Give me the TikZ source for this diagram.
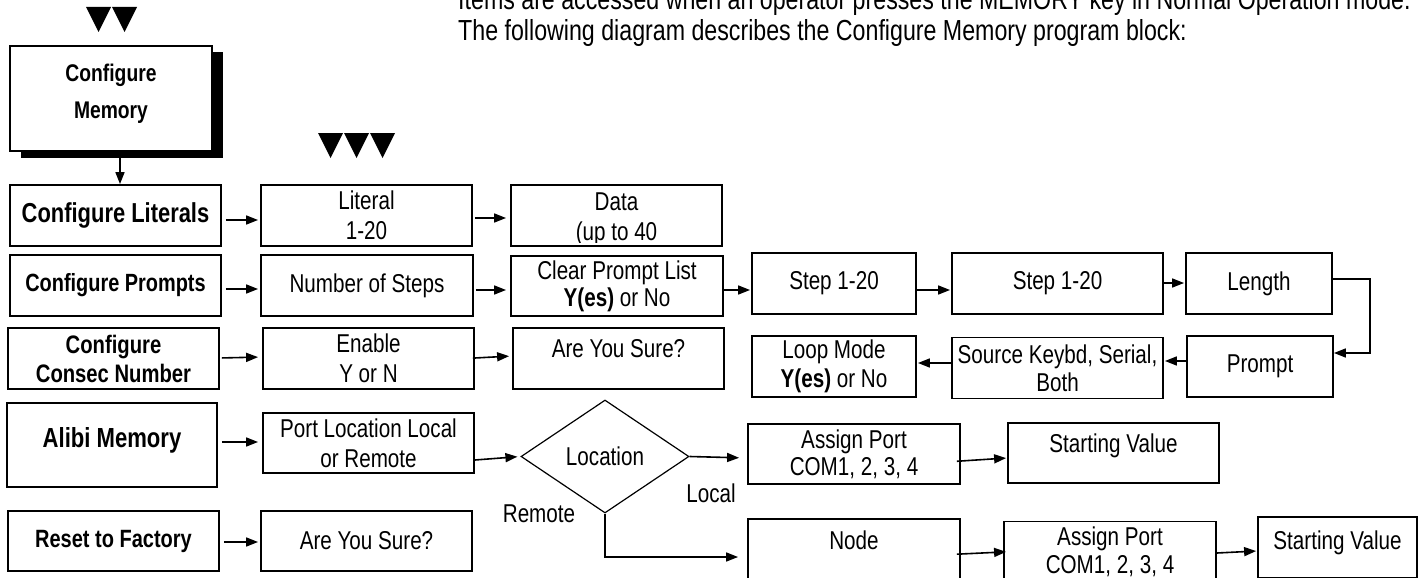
\documentclass[tikz,border=0pt]{standalone}
\usepackage{fontspec}
\setmainfont{Liberation Sans}[FakeStretch=0.8]
\usetikzlibrary{arrows.meta,shapes.geometric,shadows}
\newcommand\rgf{\fontsize{25.8}{30}\selectfont}
\begin{document}
\begin{tikzpicture}[x=1pt,y=-1pt,
  box/.style={draw, line width=1.8pt, inner sep=0pt, align=center, font=\rgf, fill=white},
  bl/.style={font=\fontsize{#1}{29}\selectfont\bfseries},
  arr/.style={-{Triangle[length=12pt,width=9pt]}, line width=1.6pt},
  tri/.style={fill=black},
  lbl/.style={font=\rgf, inner sep=0pt},
  intro/.style={font=\fontsize{29}{30}\selectfont, inner sep=0pt, anchor=base west}]
\useasboundingbox (0,0) rectangle (1424,578);
\clip (0,0) rectangle (1424,578);

% intro text
\node[intro] (intro1) at (458,10) {Items are accessed when an operator presses the MEMORY key in Normal Operation mode.};
\node[intro] (intro2) at (458,41) {The following diagram describes the Configure Memory program block:};

% triangles
\fill[tri] (86,7) -- (111,7) -- (98.5,32) -- cycle;
\fill[tri] (112,7) -- (137,7) -- (124.5,32) -- cycle;
\fill[tri] (318,133) -- (343,133) -- (330.5,158) -- cycle;
\fill[tri] (344,133) -- (369,133) -- (356.5,158) -- cycle;
\fill[tri] (370,133) -- (395,133) -- (382.5,158) -- cycle;

% top block
\node[box, minimum width=202pt, minimum height=105pt, drop shadow={shadow xshift=11pt, shadow yshift=-6.5pt, fill=black, opacity=1},
  font=\fontsize{24.1}{37}\selectfont\bfseries, text depth=14pt] (cm) at (111,98.5) {Configure\\Memory};

% row 1
\node[box, minimum width=211pt, minimum height=61pt, bl=27.4] (lit) at (115.5,215.5) {Configure Literals};
\node[box, minimum width=211pt, minimum height=61pt] (l1) at (366.5,215.5) {Literal\\1-20};
\node[box, minimum width=211pt, minimum height=61pt] (l2) at (616.5,215.5) {};
\begin{scope}
\clip (514,188) rectangle (719,242);
\node[lbl, align=center] (l2t) at (616.5,219) {Data\\(up to 40};
\end{scope}

% row 2
\node[box, minimum width=211pt, minimum height=61pt, bl=24.9] (pr) at (115.5,285.5) {Configure Prompts};
\node[box, minimum width=212pt, minimum height=61pt] (p1) at (367,285.5) {Number of Steps};
\node[box, minimum width=212pt, minimum height=60pt, font=\fontsize{25.8}{27}\selectfont] (p2) at (617,286) {Clear Prompt List\\\textbf{Y(es)} or No};
\node[box, minimum width=164pt, minimum height=61pt] (p3) at (834,283.5) {Step 1-20};
\node[box, minimum width=211pt, minimum height=61pt] (p4) at (1057.5,283.5) {Step 1-20};
\node[box, minimum width=146pt, minimum height=61pt] (p5) at (1259,283.5) {Length};
\node[box, minimum width=146pt, minimum height=61pt] (p6) at (1260,366.5) {Prompt};
\node[box, minimum width=211pt, minimum height=61pt, font=\fontsize{25.8}{28}\selectfont] (p7) at (1057.5,368) {Source Keybd, Serial,\\Both};
\node[box, minimum width=164pt, minimum height=61pt, font=\fontsize{25.8}{29}\selectfont] (p8) at (834,366.5) {Loop Mode\\\textbf{Y(es)} or No};

% row 3
\node[box, minimum width=211pt, minimum height=61pt, bl=25.3] (cs) at (113.5,358.5) {Configure\\Consec Number};
\node[box, minimum width=211pt, minimum height=61pt] (c1) at (368.5,358.5) {Enable\\Y or N};
\node[box, minimum width=211pt, minimum height=61pt, text depth=21pt] (c2) at (618.5,358.5) {Are You Sure?};

% row 4
\node[box, minimum width=210pt, minimum height=84pt, bl=27.6, text depth=16pt] (al) at (112,445) {Alibi Memory};
\node[box, minimum width=211pt, minimum height=60pt] (a1) at (368.5,443) {Port Location Local\\or Remote};
\node[draw, diamond, line width=1.2pt, inner sep=0pt, minimum width=168pt, minimum height=113pt, font=\rgf] (dia) at (605,456.5) {Location};
\node[box, minimum width=212pt, minimum height=60pt, font=\fontsize{25.8}{27}\selectfont] (a2) at (854,454) {Assign Port\\COM1, 2, 3, 4};
\node[box, minimum width=211pt, minimum height=60pt, text depth=20pt] (a3) at (1113.5,453) {Starting Value};
\node[box, minimum width=212pt, minimum height=61pt, text depth=19pt] (a4) at (854,549.5) {Node};
\node[box, minimum width=212pt, minimum height=61pt, font=\fontsize{25.8}{28}\selectfont] (a5) at (1110,552) {Assign Port\\COM1, 2, 3, 4};
\node[box, minimum width=159pt, minimum height=61pt, text depth=15pt] (a6) at (1337.5,547.5) {Starting Value};
\node[lbl] (local) at (711,493) {Local};
\node[lbl] (remote) at (539,514) {Remote};

% row 5
\node[box, minimum width=211pt, minimum height=60pt, bl=25] (rs) at (113.5,541) {Reset to Factory};
\node[box, minimum width=211pt, minimum height=60pt] (r1) at (366.5,541) {Are You Sure?};

% connectors
\draw[arr] (cm.south -| 120,0) -- (lit.north -| 120,0) ;
\draw[arr, shorten <=4pt, shorten >=2pt] (lit.east |- 0,220) -- (l1.west |- 0,220);
\draw[arr, shorten <=2pt, shorten >=4pt] (l1.east |- 0,218) -- (l2.west |- 0,218);
\draw[arr, shorten <=4pt, shorten >=2pt] (pr.east |- 0,289) -- (p1.west |- 0,289);
\draw[arr, shorten <=2pt, shorten >=4pt] (p1.east |- 0,290) -- (p2.west |- 0,290);
\draw[arr, shorten >=1pt] (p2.east |- 0,290) -- (p3.west |- 0,290);
\draw[arr, shorten >=1pt] (p3.east |- 0,290) -- (p4.west |- 0,290);
\draw[arr, shorten >=1pt] (p4.east |- 0,283) -- (p5.west |- 0,283);
\draw[arr] (p5.east |- 0,279) -- ++(37,0) |- (p6.east |- 0,353);
\draw[arr, shorten >=1pt] (p6.west |- 0,361) -- (p7.east |- 0,361);
\draw[arr, shorten >=1pt] (p7.west |- 0,363) -- (p8.east |- 0,363);
\draw[arr, shorten <=2pt, shorten >=4pt] (cs.east |- 0,358) -- (c1.west |- 0,357);
\draw[arr, shorten <=-2pt, shorten >=3pt] (c1.east |- 0,358) -- (c2.west |- 0,356);
\draw[arr, shorten <=4pt, shorten >=4pt] (al.east |- 0,442) -- (a1.west |- 0,442);
\draw[arr, shorten >=3pt] (a1.east |- 0,460) -- (dia.west);
\draw[arr, shorten >=8pt] (dia.east) -- (a2.west |- 0,458);
\draw[arr, shorten <=-4pt, shorten >=1pt] (a2.east |- 0,461) -- (a3.west |- 0,458);
\draw[arr, shorten >=9pt] (dia.south) |- (a4.west |- 0,557);
\draw[arr, shorten <=-4pt, shorten >=-3pt] (a4.east |- 0,554) -- (a5.west |- 0,552);
\draw[arr, shorten >=1pt] (a5.east |- 0,553) -- (a6.west |- 0,551);
\draw[arr, shorten <=4pt, shorten >=2pt] (rs.east |- 0,542) -- (r1.west |- 0,542);
\end{tikzpicture}
\end{document}
